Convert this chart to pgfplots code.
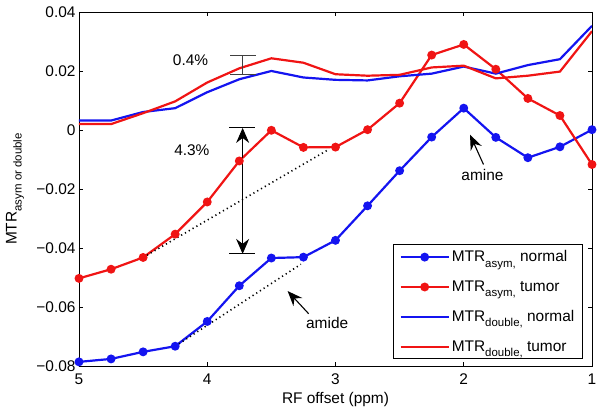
\documentclass[border=0pt]{standalone}
\usepackage{pgfplots}
\pgfplotsset{compat=1.18}
\usepackage{pgfplotstable}
\usepackage{fontspec}
\setmainfont{Liberation Sans}
\usetikzlibrary{arrows.meta}
\definecolor{mblue}{RGB}{20,20,240}
\definecolor{mred}{RGB}{240,20,20}
\newcommand\sub[1]{\raisebox{-0.33em}{\fontsize{11.5}{12}\selectfont #1}}
\pgfplotstableread{
x asymN asymT doubleN doubleT
5 -0.0786 -0.0503 0.0032 0.0020
4.75 -0.0776 -0.0472 0.0032 0.0020
4.5 -0.0752 -0.0432 0.0061 0.0057
4.25 -0.0733 -0.0353 0.0074 0.0097
4 -0.0649 -0.0244 0.0128 0.0161
3.75 -0.0528 -0.0105 0.0172 0.0209
3.5 -0.0434 -0.0001 0.0200 0.0243
3.25 -0.0431 -0.0059 0.0178 0.0228
3 -0.0374 -0.0058 0.0170 0.0189
2.75 -0.0257 0.0001 0.0168 0.0184
2.5 -0.0138 0.0091 0.0182 0.0187
2.25 -0.0024 0.0254 0.0191 0.0212
2 0.0074 0.0290 0.0215 0.0218
1.75 -0.0025 0.0206 0.0191 0.0175
1.5 -0.0094 0.0107 0.0220 0.0184
1.25 -0.0057 0.0049 0.0240 0.0198
1 0.0001 -0.0117 0.0353 0.0335
}\datatable
\begin{document}
\begin{tikzpicture}[font=\fontsize{15.5}{18.6}\selectfont]
\begin{axis}[
  at={(0,0)}, anchor=south west,
  scale only axis, width=513bp, height=354bp,
  x dir=reverse,
  xmin=1, xmax=5, ymin=-0.08, ymax=0.04,
  xtick={1,2,3,4,5},
  ytick={-0.08,-0.06,-0.04,-0.02,0,0.02,0.04},
  yticklabels={−0.08,−0.06,−0.04,−0.02,0,0.02,0.04},
  scaled y ticks=false,
  /pgf/number format/assume math mode=true,
  tick align=inside,
  major tick length=4bp,
  tick style={black, line width=0.8bp},
  axis line style={black, line width=0.9bp},
  xticklabel style={yshift=-4bp},
  xlabel={RF offset (ppm)},
  ylabel={MTR\sub{asym or double}},
  x label style={at={(axis description cs:0.5,-0.096)}, anchor=center},
  y label style={at={(axis description cs:-0.1248,0.5)}, anchor=center},
  legend style={at={(axis description cs:0.982,0.019)}, anchor=south east,
    draw=black, line width=0.9bp, inner xsep=6bp, inner ysep=4bp, row sep=13.5bp,
    font=\fontsize{15.5}{18.6}\selectfont},
  legend cell align=left,
  legend image code/.code={\draw[mark repeat=2,mark phase=2,#1] plot coordinates {(0bp,0bp) (24bp,0bp) (48bp,0bp)};},
]
\addplot[mblue, line width=2.2bp, mark=*, mark size=3.3bp] table[x=x,y=asymN]{\datatable};
\addlegendentry{MTR\sub{asym,} normal}
\addplot[mred, line width=2.2bp, mark=*, mark size=3.3bp] table[x=x,y=asymT]{\datatable};
\addlegendentry{MTR\sub{asym,} tumor}
\addplot[mblue, line width=2.2bp] table[x=x,y=doubleN]{\datatable};
\addlegendentry{MTR\sub{double,} normal}
\addplot[mred, line width=2.2bp] table[x=x,y=doubleT]{\datatable};
\addlegendentry{MTR\sub{double,} tumor}
% dotted baselines
\draw[black, line width=1.6bp, dash pattern=on 1.2bp off 3.2bp] (axis cs:4.5,-0.0432) -- (axis cs:3.065,-0.0069);
\draw[black, line width=1.6bp, dash pattern=on 1.2bp off 3.2bp] (axis cs:4.25,-0.0733) -- (axis cs:3.27,-0.0455);
% 4.3% arrow
\draw[black, line width=0.9bp] (axis cs:3.83,0.0007) -- (axis cs:3.63,0.0007);
\draw[black, line width=0.9bp] (axis cs:3.83,-0.0420) -- (axis cs:3.63,-0.0420);
\draw[black, line width=0.9bp, {Stealth[length=15bp,width=13bp,inset=5bp]}-{Stealth[length=15bp,width=13bp,inset=5bp]}] (axis cs:3.724,0.0007) -- (axis cs:3.724,-0.0420);
\node[anchor=center] at (axis cs:4.12,-0.0068) {4.3\%};
% 0.4% bar
\draw[black!75, line width=1.1bp] (axis cs:3.82,0.0252) -- (axis cs:3.62,0.0252);
\draw[black!75, line width=1.1bp] (axis cs:3.82,0.0189) -- (axis cs:3.62,0.0189);
\draw[black!75, line width=1.1bp] (axis cs:3.724,0.0252) -- (axis cs:3.724,0.0189);
\node[anchor=center] at (axis cs:4.13,0.0237) {0.4\%};
% amine
\draw[black, line width=1.1bp, -{Stealth[length=15bp,width=12bp,inset=5bp]}] (axis cs:1.846,-0.0117) -- (axis cs:1.951,-0.0016);
\node[anchor=center] at (axis cs:1.854,-0.0153) {amine};
% amide
\draw[black, line width=1.1bp, -{Stealth[length=15bp,width=12bp,inset=5bp]}] (axis cs:3.209,-0.0623) -- (axis cs:3.373,-0.0546);
\node[anchor=center] at (axis cs:3.065,-0.0654) {amide};
\end{axis}
\pgfresetboundingbox
\path[use as bounding box] (-79bp,-48bp) rectangle (523bp,366bp);
\end{tikzpicture}
\end{document}
